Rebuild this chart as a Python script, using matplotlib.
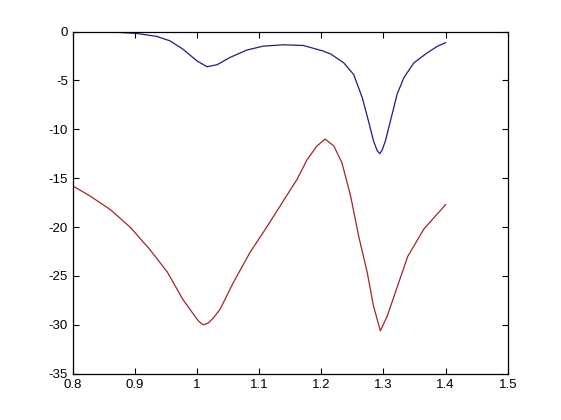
import matplotlib.pyplot as plt

# S-parameter style curves
x_blue = [0.8, 0.819, 0.871, 0.903, 0.935, 0.956, 0.977, 0.9995, 1.016, 1.032,
          1.053, 1.080, 1.106, 1.139, 1.171, 1.203, 1.215, 1.236, 1.252, 1.266,
          1.276, 1.284, 1.290, 1.294, 1.298, 1.303, 1.311, 1.322, 1.333, 1.349,
          1.370, 1.387, 1.4]
y_blue = [-0.05, -0.05, -0.08, -0.2, -0.5, -0.95, -1.8, -3.0, -3.6, -3.4,
          -2.65, -1.9, -1.5, -1.36, -1.43, -2.0, -2.3, -3.2, -4.4, -6.8,
          -9.2, -11.2, -12.2, -12.5, -12.1, -11.2, -9.2, -6.4, -4.7, -3.2,
          -2.2, -1.5, -1.15]

x_red = [0.8, 0.827, 0.86, 0.892, 0.924, 0.952, 0.977, 0.994, 1.002, 1.01,
         1.018, 1.026, 1.037, 1.058, 1.085, 1.113, 1.139, 1.161, 1.177, 1.193,
         1.206, 1.22, 1.233, 1.247, 1.26, 1.274, 1.284, 1.295, 1.306, 1.319,
         1.339, 1.365, 1.4]
y_red = [-15.8, -16.8, -18.2, -20.0, -22.3, -24.6, -27.4, -28.9, -29.6, -30.0,
         -29.8, -29.3, -28.4, -25.7, -22.6, -19.9, -17.3, -15.1, -13.1, -11.7,
         -11.0, -11.7, -13.4, -16.8, -20.9, -24.7, -28.1, -30.6, -29.1, -26.7,
         -23.0, -20.2, -17.7]

xticks = [0.8, 0.9, 1.0, 1.1, 1.2, 1.3, 1.4, 1.5]
yticks = [0, -5, -10, -15, -20, -25, -30, -35]

plt.rcParams['font.family'] = ['Liberation Sans', 'DejaVu Sans']

fig = plt.figure(figsize=(5.61, 4.2), dpi=100)
ax = fig.add_axes([0.13, 0.11, 0.775, 0.815])

ax.plot(x_blue, y_blue, "-", color="#1c1c8a", linewidth=0.9)
ax.plot(x_red, y_red, "-", color="#a3242a", linewidth=0.9)

ax.set_xlim(0.8, 1.5)
ax.set_ylim(-35, 0)
ax.set_xticks(xticks)
ax.set_xticklabels(["%g" % v for v in xticks])
ax.set_yticks(yticks)
ax.set_yticklabels(["%g" % v for v in yticks])
ax.tick_params(direction="in", top=True, right=True, labelsize=9.5,
               length=4, width=0.8)
for s in ax.spines.values():
    s.set_linewidth(0.9)

plt.savefig("out.png", dpi=100)
